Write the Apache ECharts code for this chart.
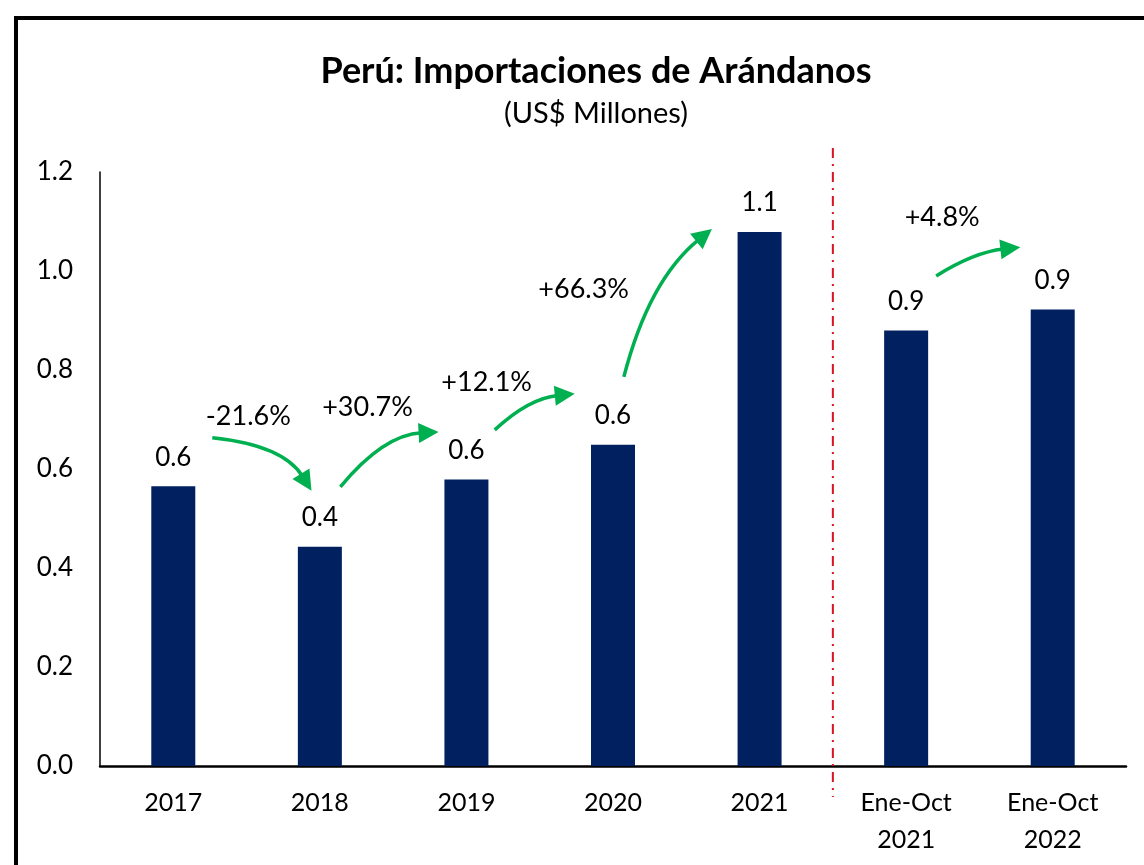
<!DOCTYPE html>
<html>
<head>
<meta charset="utf-8">
<script src="https://cdn.jsdelivr.net/npm/echarts@6/dist/echarts.min.js"></script>
<style>
  html, body { margin: 0; padding: 0; background: #fff; }
  #chart { width: 1144px; height: 865px; }
</style>
</head>
<body>
<div id="chart"></div>
<script>
// categorias y valores (US$ millones)
const categories = ['2017', '2018', '2019', '2020', '2021', 'Ene-Oct\n2021', 'Ene-Oct\n2022'];
const values = [0.565, 0.443, 0.579, 0.649, 1.079, 0.88, 0.922];
const yTicks = [0, 0.2, 0.4, 0.6, 0.8, 1.0, 1.2];

// variaciones porcentuales (flechas verdes)
const changeLabels = ['-21.6%', '+30.7%', '+12.1%', '+66.3%', '+4.8%'];
// flechas: [catInicio, valInicio, catControl, valControl, catFin, valFin]
const arrowPaths = [
  [0.266, 0.663, 0.75, 0.648, 0.943, 0.556],
  [1.14, 0.564, 1.434, 0.669, 1.81, 0.675],
  [2.193, 0.679, 2.425, 0.743, 2.739, 0.752],
  [3.074, 0.786, 3.245, 0.982, 3.675, 1.085],
  [5.205, 0.99, 5.464, 1.038, 5.779, 1.048]
];
const labelPos = [
  [0.512, 0.707],
  [1.325, 0.725],
  [2.138, 0.776],
  [2.8, 0.964],
  [5.246, 1.109]
];

const FONT = 'Lato';
const chart = echarts.init(document.getElementById('chart'));

const option = {
  backgroundColor: '#fff',
  animation: false,
  title: {
    text: 'Perú: Importaciones de Arándanos',
    subtext: '(US$ Millones)',
    left: 591,
    textAlign: 'center',
    top: 48,
    itemGap: 10,
    textStyle: { fontFamily: FONT, fontSize: 36, fontWeight: 'bold', color: '#000' },
    subtextStyle: { fontFamily: FONT, fontSize: 29, color: '#000' }
  },
  grid: { left: 100, right: 18, top: 172, bottom: 99 },
  xAxis: {
    type: 'category',
    data: categories,
    axisLine: { lineStyle: { color: '#000', width: 2.5 } },
    axisTick: { show: false },
    axisLabel: {
      fontFamily: FONT, fontSize: 25, color: '#000',
      lineHeight: 37, margin: 18, interval: 0
    }
  },
  yAxis: {
    type: 'value',
    min: 0,
    max: 1.2,
    interval: 0.2,
    splitLine: { show: false },
    axisLine: { show: true, lineStyle: { color: '#000', width: 1.5 } },
    axisTick: { show: false },
    axisLabel: {
      fontFamily: FONT, fontSize: 26, color: '#000', margin: 27,
      formatter: v => v.toFixed(1)
    }
  },
  series: [{
    type: 'bar',
    data: values,
    barWidth: 44,
    itemStyle: { color: '#002060' },
    label: {
      show: true,
      position: 'top',
      distance: 16,
      fontFamily: FONT,
      fontSize: 26,
      color: '#000',
      formatter: p => p.value.toFixed(1)
    }
  }]
};

chart.setOption(option);

// anotaciones ancladas a los ejes
function drawAnnotations() {
  const x0 = chart.convertToPixel({ xAxisIndex: 0 }, 0);
  const x1 = chart.convertToPixel({ xAxisIndex: 0 }, 1);
  const band = x1 - x0;
  const P = (c, v) => [x0 + c * band, chart.convertToPixel({ yAxisIndex: 0 }, v)];

  const green = '#00B050';
  const elements = [];

  // marco negro
  elements.push({
    type: 'rect',
    shape: { x: 16, y: 18, width: 1200, height: 900 },
    style: { fill: null, stroke: '#000', lineWidth: 4 },
    z: 100
  });

  // linea roja separadora
  const sepX = x0 + 4.5 * band;
  elements.push({
    type: 'line',
    shape: { x1: sepX, y1: 148, x2: sepX, y2: P(0, 0)[1] + 31 },
    style: { stroke: '#D9141E', lineWidth: 2, lineDash: [10, 6, 2, 6] },
    z: 50
  });

  arrowPaths.forEach((a, i) => {
    const s = P(a[0], a[1]);
    const c = P(a[2], a[3]);
    const e = P(a[4], a[5]);
    const dx = e[0] - c[0], dy = e[1] - c[1];
    const len = Math.sqrt(dx * dx + dy * dy);
    const ux = dx / len, uy = dy / len;
    const headL = 20, headW = 10;
    const base = [e[0] - ux * headL, e[1] - uy * headL];
    elements.push({
      type: 'bezierCurve',
      shape: { x1: s[0], y1: s[1], cpx1: c[0], cpy1: c[1], x2: base[0] + ux * 3, y2: base[1] + uy * 3 },
      style: { stroke: green, lineWidth: 3.5, fill: null },
      z: 60
    });
    elements.push({
      type: 'polygon',
      shape: {
        points: [
          e,
          [base[0] - uy * headW, base[1] + ux * headW],
          [base[0] + uy * headW, base[1] - ux * headW]
        ]
      },
      style: { fill: green },
      z: 60
    });
    const lp = P(labelPos[i][0], labelPos[i][1]);
    elements.push({
      type: 'text',
      x: lp[0],
      y: lp[1],
      style: {
        text: changeLabels[i],
        fontFamily: FONT,
        fontSize: 27,
        fill: '#000',
        align: 'center',
        verticalAlign: 'middle'
      },
      z: 60
    });
  });

  chart.setOption({ graphic: { elements: elements } });
}

drawAnnotations();
</script>
</body>
</html>
